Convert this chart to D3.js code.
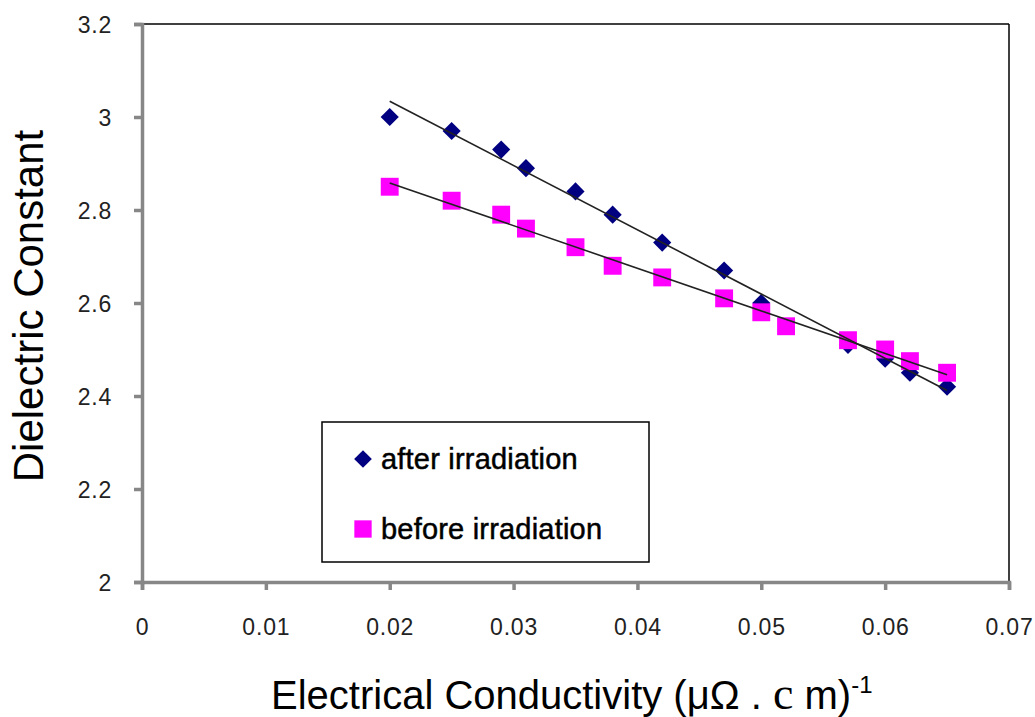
<!DOCTYPE html>
<html>
<head>
<meta charset="utf-8">
<script src="https://cdn.jsdelivr.net/npm/d3@7"></script>
<style>
  body { margin: 0; background: #fff; }
  text { font-family: "Liberation Sans", Arial, sans-serif; }
</style>
</head>
<body>
<svg id="chart" width="1035" height="717"></svg>
<script>
// data
const afterX = [0.02, 0.025, 0.029, 0.031, 0.035, 0.038, 0.042, 0.047, 0.05, 0.057, 0.06, 0.062, 0.065];
const afterY = [3.0, 2.97, 2.93, 2.89, 2.84, 2.79, 2.73, 2.67, 2.6, 2.51, 2.48, 2.45, 2.42];
const beforeX = [0.02, 0.025, 0.029, 0.031, 0.035, 0.038, 0.042, 0.047, 0.05, 0.052, 0.057, 0.06, 0.062, 0.065];
const beforeY = [2.85, 2.82, 2.79, 2.76, 2.72, 2.68, 2.655, 2.61, 2.58, 2.55, 2.52, 2.5, 2.475, 2.45];
const seriesNames = ["after irradiation", "before irradiation"];
const xTicks = [0, 0.01, 0.02, 0.03, 0.04, 0.05, 0.06, 0.07];
const yTicks = [2, 2.2, 2.4, 2.6, 2.8, 3, 3.2];

const svg = d3.select("svg#chart");
const margin = { top: 24, left: 142, right: 26, bottom: 135 };
const width = +svg.attr("width");
const height = +svg.attr("height");

const x = d3.scaleLinear([0, 0.07], [margin.left, width - margin.right]);
const y = d3.scaleLinear([2, 3.2], [height - margin.bottom, margin.top]);

const series = [
	{ name: seriesNames[0], xs: afterX, ys: afterY, color: "#000080", shape: "diamond" },
	{ name: seriesNames[1], xs: beforeX, ys: beforeY, color: "#ff00ff", shape: "square" }
].map((s) => ({ ...s, points: s.xs.map((v, i) => ({ x: v, y: s.ys[i] })) }));

// plot frame: thin black top/right
svg.append("line")
	.attr("x1", x(0)).attr("x2", x(0.07))
	.attr("y1", y(3.2)).attr("y2", y(3.2))
	.attr("stroke", "#000").attr("stroke-width", 1.5);
svg.append("line")
	.attr("x1", x(0.07)).attr("x2", x(0.07))
	.attr("y1", y(3.2)).attr("y2", y(2))
	.attr("stroke", "#000").attr("stroke-width", 1.5);

const axisColor = "#878787";

const xAxis = svg.append("g")
	.attr("transform", `translate(0,${y(2)})`)
	.call(d3.axisBottom(x).tickValues(xTicks).tickSize(8).tickPadding(29).tickFormat((d) => d3.format("")(+d.toFixed(2))));
const yAxis = svg.append("g")
	.attr("transform", `translate(${x(0)},0)`)
	.call(d3.axisLeft(y).tickValues(yTicks).tickSize(8).tickPadding(22).tickFormat((d) => d3.format("")(+d.toFixed(1))));

[xAxis, yAxis].forEach((g) => {
	g.select(".domain").attr("stroke", axisColor).attr("stroke-width", 3.5);
	g.selectAll(".tick line").attr("stroke", axisColor).attr("stroke-width", 3.5);
	g.selectAll(".tick text")
		.attr("fill", "#222")
		.style("font-size", "23px")
		.style("letter-spacing", "0.8px")
		.style("font-family", "'Liberation Sans', Arial, sans-serif");
});
yAxis.selectAll(".tick text").attr("dy", "0.36em");

// markers
const symbolFor = (s) => s.shape === "diamond"
	? d3.symbol(d3.symbolDiamond2, 210)()
	: d3.symbol(d3.symbolSquare, 320)();

const marks = svg.append("g");
series.forEach((s) => {
	marks.append("g")
		.selectAll("path")
		.data(s.points)
		.join("path")
		.attr("d", symbolFor(s))
		.attr("transform", (d) => `translate(${x(d.x)},${y(d.y)})`)
		.attr("fill", s.color);
});

// linear trend lines (least squares)
const fit = (pts) => {
	const mx = d3.mean(pts, (d) => d.x);
	const my = d3.mean(pts, (d) => d.y);
	const b = d3.sum(pts, (d) => (d.x - mx) * (d.y - my)) / d3.sum(pts, (d) => (d.x - mx) ** 2);
	const a = my - b * mx;
	const [x0, x1] = d3.extent(pts, (d) => d.x);
	return [{ x: x0, y: a + b * x0 }, { x: x1, y: a + b * x1 }];
};
const line = d3.line().x((d) => x(d.x)).y((d) => y(d.y));
series.forEach((s) => {
	svg.append("path")
		.attr("d", line(fit(s.points)))
		.attr("fill", "none")
		.attr("stroke", "#222")
		.attr("stroke-width", 1.6);
});

// legend
const legend = svg.append("g").attr("transform", "translate(322,422)");
legend.append("rect")
	.attr("width", 327).attr("height", 140)
	.attr("fill", "#fff").attr("stroke", "#000").attr("stroke-width", 1.5);
series.forEach((s, i) => {
	const row = legend.append("g").attr("transform", `translate(0,${37 + i * 70})`);
	row.append("path")
		.attr("d", s.shape === "diamond" ? d3.symbol(d3.symbolDiamond2, 200)() : d3.symbol(d3.symbolSquare, 300)())
		.attr("transform", "translate(41,0)")
		.attr("fill", s.color);
	row.append("text")
		.attr("x", 59).attr("y", 10)
		.attr("fill", "#000")
		.attr("stroke", "#000").attr("stroke-width", 0.5)
		.style("font-size", "29px")
		.style("letter-spacing", "0.2px")
		.text(s.name);
});

// axis titles
svg.append("text")
	.attr("transform", `translate(43,${(y(2) + y(3.2)) / 2 + 3}) rotate(-90)`)
	.attr("text-anchor", "middle")
	.attr("fill", "#000")
	.style("font-size", "42px")
	.text("Dielectric Constant");

const xt = svg.append("text")
	.attr("x", 271).attr("y", 709)
	.attr("fill", "#000")
	.style("font-size", "40px");
xt.append("tspan").text("Electrical Conductivity (\u03bc\u03a9 . ");
xt.append("tspan").style("font-family", "'Liberation Serif', 'Times New Roman', serif").style("font-size", "46px").text("c");
xt.append("tspan").text(" m)");
xt.append("tspan").attr("dy", -16).style("font-size", "24px").text("-1");
</script>
</body>
</html>
